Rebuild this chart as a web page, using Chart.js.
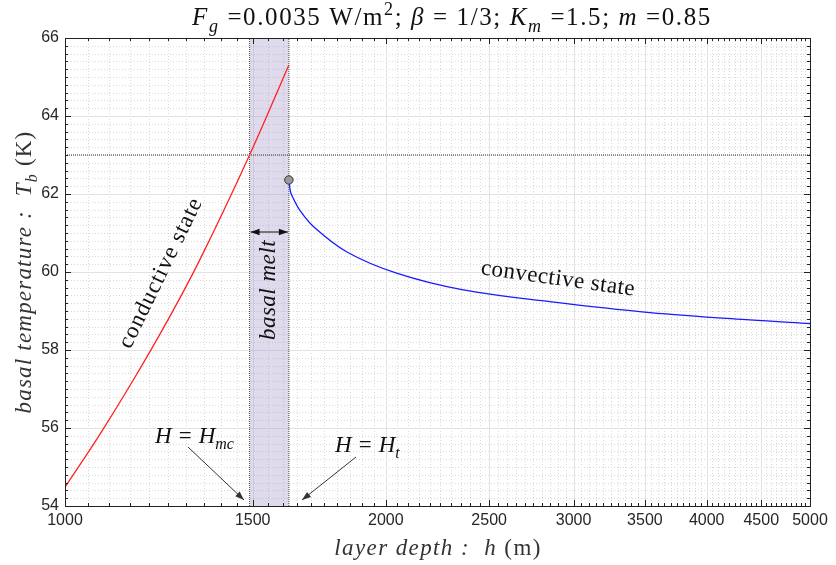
<!DOCTYPE html>
<html>
<head>
<meta charset="utf-8">
<script src="https://cdn.jsdelivr.net/npm/chart.js@4.4.1/dist/chart.umd.min.js"></script>
<style>
  html, body { margin: 0; padding: 0; background: #fff; }
  canvas { display: block; }
</style>
</head>
<body>
<canvas id="grafico" width="836" height="565"></canvas>
<script>
// === DADOS ===
// estado condutivo (curva vermelha)
const hConductive = [1000, 1079, 1159, 1246, 1338, 1490, 1622];
const tbConductive = [54.48, 55.85, 57.23, 58.72, 60.31, 63.0, 65.31];
// estado convectivo (curva azul)
const hConvective = [1622, 1628, 1638, 1661, 1711, 1837, 2047, 2364, 2851, 3539, 4392, 5000];
const tbConvective = [62.36, 62.05, 61.88, 61.58, 61.16, 60.52, 59.97, 59.54, 59.24, 58.96, 58.77, 58.68];
// limites da fusão basal e temperatura de fusão
const hMeltStart = 1490;   // H = H_mc
const hMeltEnd   = 1622;   // H = H_t
const tMelt      = 63;
const transitionPoint = [1622, 62.36];
// eixos
const xTickLabels = [1000, 1500, 2000, 2500, 3000, 3500, 4000, 4500, 5000];
const yTickLabels = [54, 56, 58, 60, 62, 64, 66];
const xMinorStep = 50;
const yMinorStep = 0.2;

const SERIF = '"Liberation Serif", "Times New Roman", serif';

// texto com itálico / subscrito / sobrescrito
function drawRich(ctx, parts, x, y, size, align, spacing) {
  ctx.letterSpacing = (spacing || 0) + 'px';
  const fontFor = p => {
    const small = p[1] === 'si' || p[1] === 'sup';
    const ital = p[1] === 'i' || p[1] === 'si';
    return (ital ? 'italic ' : '') + (small ? Math.round(size * 0.7) : size) + 'px ' + SERIF;
  };
  let total = 0;
  const widths = parts.map(p => { ctx.font = fontFor(p); const w = ctx.measureText(p[0]).width; total += w; return w; });
  let cx = align === 'center' ? x - total / 2 : x;
  ctx.textAlign = 'left';
  ctx.textBaseline = 'alphabetic';
  parts.forEach((p, i) => {
    ctx.font = fontFor(p);
    let dy = 0;
    if (p[1] === 'si') dy = size * 0.28;
    if (p[1] === 'sup') dy = -size * 0.4;
    ctx.fillText(p[0], cx, y + dy);
    cx += widths[i];
  });
  ctx.letterSpacing = '0px';
}

function rotatedText(ctx, text, cx, cy, deg, font, spacing) {
  ctx.save();
  ctx.translate(cx, cy);
  ctx.rotate(deg * Math.PI / 180);
  ctx.font = font;
  ctx.letterSpacing = (spacing || 0) + 'px';
  ctx.textAlign = 'center';
  ctx.textBaseline = 'middle';
  ctx.fillText(text, 0, 0);
  ctx.restore();
}

function arrowHead(ctx, x1, y1, x2, y2) {
  const a = Math.atan2(y2 - y1, x2 - x1);
  const len = 9, wid = 3.2;
  ctx.beginPath();
  ctx.moveTo(x2, y2);
  ctx.lineTo(x2 - len * Math.cos(a) + wid * Math.sin(a), y2 - len * Math.sin(a) - wid * Math.cos(a));
  ctx.lineTo(x2 - len * Math.cos(a) - wid * Math.sin(a), y2 - len * Math.sin(a) + wid * Math.cos(a));
  ctx.closePath();
  ctx.fill();
}

function arrow(ctx, x1, y1, x2, y2) {
  ctx.beginPath();
  ctx.moveTo(x1, y1);
  ctx.lineTo(x2, y2);
  ctx.stroke();
  arrowHead(ctx, x1, y1, x2, y2);
}

// === GRADE (estilo MATLAB) ===
const gradePlugin = {
  id: 'grade',
  beforeDatasetsDraw(chart) {
    const { ctx, chartArea: a, scales: { x, y } } = chart;
    ctx.save();
    ctx.lineWidth = 1;
    // linhas menores pontilhadas
    ctx.strokeStyle = '#d9d9d9';
    ctx.setLineDash([1, 2]);
    for (let v = xTickLabels[0] + xMinorStep; v < xTickLabels[xTickLabels.length - 1]; v += xMinorStep) {
      if (v % 500 === 0) continue;
      const px = Math.round(x.getPixelForValue(v)) + 0.5;
      ctx.beginPath(); ctx.moveTo(px, a.top); ctx.lineTo(px, a.bottom); ctx.stroke();
    }
    const nY = Math.round((66 - 54) / yMinorStep);
    for (let i = 1; i < nY; i++) {
      if (i % 10 === 0) continue;
      const py = Math.round(y.getPixelForValue(54 + i * yMinorStep)) + 0.5;
      ctx.beginPath(); ctx.moveTo(a.left, py); ctx.lineTo(a.right, py); ctx.stroke();
    }
    // linhas maiores
    ctx.setLineDash([]);
    ctx.strokeStyle = '#e2e2e2';
    xTickLabels.forEach(v => {
      const px = Math.round(x.getPixelForValue(v)) + 0.5;
      ctx.beginPath(); ctx.moveTo(px, a.top); ctx.lineTo(px, a.bottom); ctx.stroke();
    });
    yTickLabels.forEach(v => {
      const py = Math.round(y.getPixelForValue(v)) + 0.5;
      ctx.beginPath(); ctx.moveTo(a.left, py); ctx.lineTo(a.right, py); ctx.stroke();
    });
    ctx.restore();
  },
  afterDraw(chart) {
    const { ctx, chartArea: a, scales: { x, y } } = chart;
    ctx.save();
    // moldura
    ctx.strokeStyle = '#222';
    ctx.lineWidth = 1;
    ctx.strokeRect(Math.round(a.left) + 0.5, Math.round(a.top) + 0.5, Math.round(a.right - a.left), Math.round(a.bottom - a.top));
    // marcas dos eixos (para dentro)
    ctx.beginPath();
    for (let v = xTickLabels[0]; v <= xTickLabels[xTickLabels.length - 1]; v += xMinorStep) {
      const px = Math.round(x.getPixelForValue(v)) + 0.5;
      const len = v % 500 === 0 ? 6 : 3;
      ctx.moveTo(px, a.bottom); ctx.lineTo(px, a.bottom - len);
      ctx.moveTo(px, a.top); ctx.lineTo(px, a.top + len);
    }
    const nY = Math.round((66 - 54) / yMinorStep);
    for (let i = 0; i <= nY; i++) {
      const py = Math.round(y.getPixelForValue(54 + i * yMinorStep)) + 0.5;
      const len = i % 10 === 0 ? 6 : 3;
      ctx.moveTo(a.left, py); ctx.lineTo(a.left + len, py);
      ctx.moveTo(a.right, py); ctx.lineTo(a.right - len, py);
    }
    ctx.stroke();

    ctx.fillStyle = '#111';
    // título
    drawRich(ctx, [['F', 'i'], ['g', 'si'], [' =0.0035 W/m', 'r'], ['2', 'sup'], ['; ', 'r'], ['\u03B2', 'i'],
      [' = 1/3; ', 'r'], ['K', 'i'], ['m', 'si'], [' =1.5; ', 'r'], ['m', 'i'], [' =0.85', 'r']], 452, 25, 25, 'center', 1.6);
    // título do eixo x
    ctx.fillStyle = '#333';
    drawRich(ctx, [['layer depth :  ', 'i'], ['h', 'i'], [' (m)', 'r']], 438, 555, 23, 'center', 1.4);
    // título do eixo y
    ctx.save();
    ctx.translate(31, 272);
    ctx.rotate(-Math.PI / 2);
    drawRich(ctx, [['basal temperature :  ', 'i'], ['T', 'i'], ['b', 'si'], [' (K)', 'r']], 0, 0, 23, 'center', 1.2);
    ctx.restore();

    // anotações
    ctx.fillStyle = '#111';
    ctx.strokeStyle = '#111';
    rotatedText(ctx, 'conductive state', 161, 273, -64, '23px ' + SERIF, 1);
    rotatedText(ctx, 'convective state', 558, 279, 8, '23px ' + SERIF, 0.5);

    const xm1 = x.getPixelForValue(hMeltStart);
    const xm2 = x.getPixelForValue(hMeltEnd);
    rotatedText(ctx, 'basal melt', (xm1 + xm2) / 2, 290, -90, 'italic 23px ' + SERIF, 0.5);

    // seta dupla da fusão basal
    ctx.lineWidth = 1;
    const ya = 232;
    ctx.beginPath(); ctx.moveTo(xm1 + 1, ya); ctx.lineTo(xm2 - 1, ya); ctx.stroke();
    arrowHead(ctx, xm2, ya, xm1 + 1, ya);
    arrowHead(ctx, xm1, ya, xm2 - 1, ya);

    // H = H_mc e H = H_t
    drawRich(ctx, [['H = H', 'i'], ['mc', 'si']], 155, 443, 23, 'left', 0);
    drawRich(ctx, [['H = H', 'i'], ['t', 'si']], 335, 452, 23, 'left', 0);
    ctx.strokeStyle = '#333';
    ctx.fillStyle = '#333';
    arrow(ctx, 188, 447, 244, 500);
    arrow(ctx, 356, 457, 302, 500);
    ctx.restore();
  }
};

// === GRÁFICO ===
const ctx = document.getElementById('grafico');
new Chart(ctx, {
  type: 'line',
  data: {
    datasets: [
      {
        label: 'ponto de transição',
        data: [{ x: transitionPoint[0], y: transitionPoint[1] }],
        showLine: false,
        pointRadius: 4.2,
        pointBackgroundColor: '#9a9a9a',
        pointBorderColor: '#333',
        pointBorderWidth: 1,
        order: 0
      },
      {
        label: 'conductive state',
        data: hConductive.map((h, i) => ({ x: h, y: tbConductive[i] })),
        borderColor: '#ff2222',
        borderWidth: 1.3,
        pointRadius: 0,
        tension: 0.4,
        order: 1
      },
      {
        label: 'convective state',
        data: hConvective.map((h, i) => ({ x: h, y: tbConvective[i] })),
        borderColor: '#1a1aff',
        borderWidth: 1.3,
        pointRadius: 0,
        tension: 0.35,
        order: 1
      },
      {
        label: 'T melt',
        data: [{ x: xTickLabels[0], y: tMelt }, { x: xTickLabels[xTickLabels.length - 1], y: tMelt }],
        borderColor: '#333',
        borderWidth: 1,
        borderDash: [1, 1],
        pointRadius: 0,
        order: 2
      },
      {
        label: 'H_mc',
        data: [{ x: hMeltStart, y: yTickLabels[0] }, { x: hMeltStart, y: yTickLabels[yTickLabels.length - 1] }],
        borderColor: '#444',
        borderWidth: 1,
        borderDash: [1, 1],
        pointRadius: 0,
        order: 2
      },
      {
        label: 'H_t',
        data: [{ x: hMeltEnd, y: yTickLabels[0] }, { x: hMeltEnd, y: yTickLabels[yTickLabels.length - 1] }],
        borderColor: '#444',
        borderWidth: 1,
        borderDash: [1, 1],
        pointRadius: 0,
        order: 2
      },
      {
        label: 'basal melt',
        data: [{ x: hMeltStart, y: yTickLabels[yTickLabels.length - 1] }, { x: hMeltEnd, y: yTickLabels[yTickLabels.length - 1] }],
        borderWidth: 0,
        pointRadius: 0,
        fill: 'start',
        backgroundColor: 'rgba(150, 135, 195, 0.3)',
        order: 3
      }
    ]
  },
  options: {
    responsive: false,
    animation: false,
    layout: { padding: { top: 38, right: 26, left: 0, bottom: 0 } },
    plugins: {
      legend: { display: false },
      tooltip: { enabled: false },
      title: { display: false }
    },
    scales: {
      x: {
        type: 'logarithmic',
        min: 1000,
        max: 5000,
        afterBuildTicks: s => { s.ticks = xTickLabels.map(v => ({ value: v })); },
        afterFit: s => { s.height = 59; },
        grid: { display: false, drawTicks: false },
        border: { display: false },
        ticks: {
          autoSkip: false,
          maxRotation: 0,
          padding: 5,
          color: '#262626',
          font: { family: '"Liberation Sans", Arial, sans-serif', size: 16 },
          callback: v => String(v)
        }
      },
      y: {
        type: 'linear',
        min: 54,
        max: 66,
        afterBuildTicks: s => { s.ticks = yTickLabels.map(v => ({ value: v })); },
        afterFit: s => { s.width = 65; },
        grid: { display: false, drawTicks: false },
        border: { display: false },
        ticks: {
          padding: 6,
          color: '#262626',
          font: { family: '"Liberation Sans", Arial, sans-serif', size: 16 }
        }
      }
    }
  },
  plugins: [gradePlugin]
});
</script>
</body>
</html>
